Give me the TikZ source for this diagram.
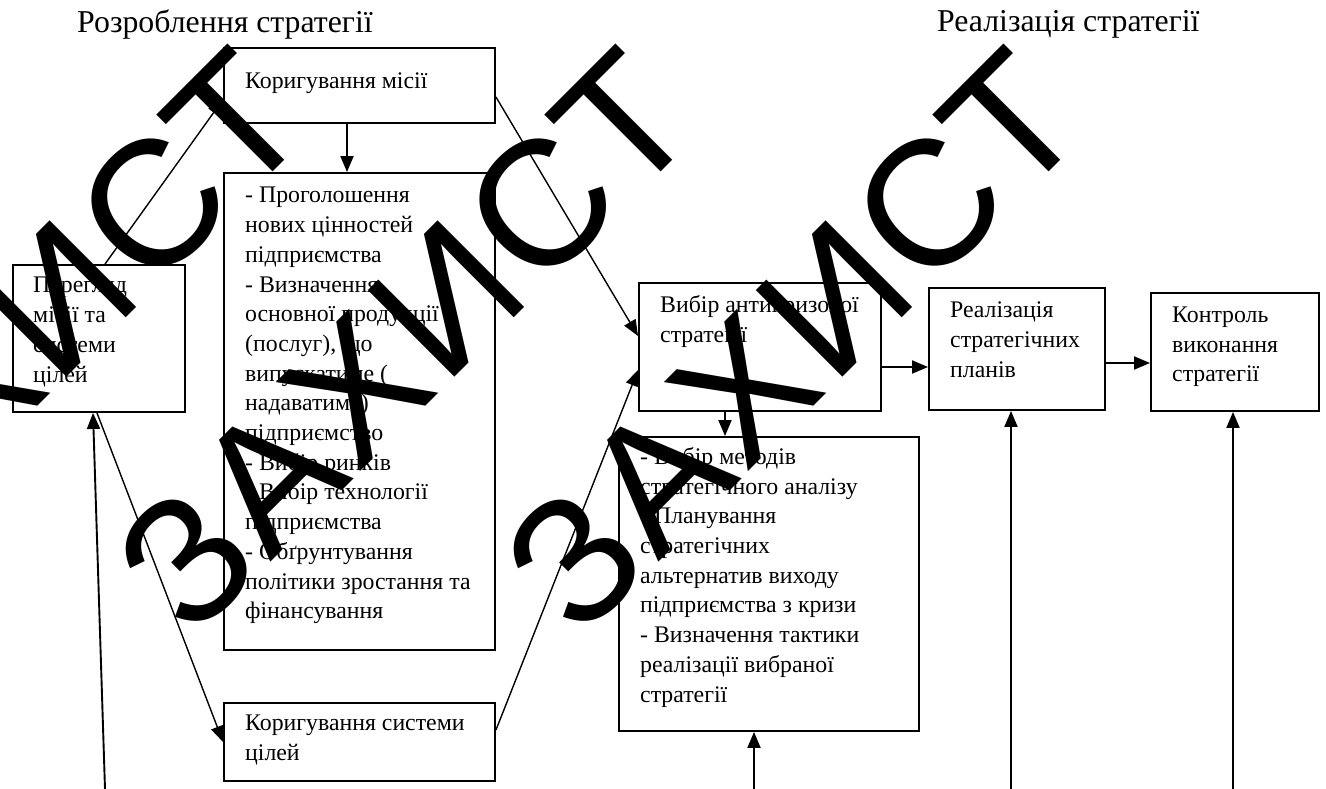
\documentclass[tikz,border=0pt]{standalone}
\usepackage{fontspec}
\setmainfont{Liberation Serif}
\newfontfamily\wmfont{Liberation Sans}[LetterSpace=2.5]
\usetikzlibrary{arrows.meta}

\begin{document}
\begin{tikzpicture}[x=1pt, y=-1pt, >={Triangle[length=16pt,width=13pt]},
    box/.style={draw, line width=1.9pt, inner sep=0pt},
    txt/.style={anchor=north west, inner sep=0pt, align=left, font=\fontsize{23.8}{29.7}\selectfont, execute at begin node=\strut},
    head/.style={anchor=base west, inner sep=0pt, font=\fontsize{31.8}{38}\selectfont},
    link/.style={->, line width=1.9pt},
    slant/.style={->, line width=1.4pt},
    wm/.style={rotate=45, inner sep=0pt, font=\wmfont\fontsize{178}{178}\selectfont}]
    \useasboundingbox (0,0) rectangle (1326,789);
    \node[head] (dev) at (77,33) {Розроблення стратегії};
    \node[head] (impl) at (937,32) {Реалізація стратегії};
    \node[box, minimum width=271pt, minimum height=75pt] (kmis) at (359.5,85.5) {};
    \node[box, minimum width=271pt, minimum height=477pt] (big1) at (359.5,411.5) {};
    \node[box, minimum width=271pt, minimum height=78pt] (ksys) at (359.5,742) {};
    \node[box, minimum width=172pt, minimum height=147pt] (pere) at (99,338.5) {};
    \node[box, minimum width=242pt, minimum height=128pt] (vib) at (760,347) {};
    \node[box, minimum width=300pt, minimum height=294pt] (big2) at (769,584) {};
    \node[box, minimum width=176pt, minimum height=122pt] (real) at (1017,349) {};
    \node[box, minimum width=168pt, minimum height=118pt] (kontr) at (1235,352) {};
    \node[txt] (kmist) at (245,67.2) {Коригування місії};
    \node[txt] (big1t) at (245,187.2) {- Проголошення\\нових цінностей\\підприємства\\- Визначення\\основної продукції\\(послуг), що\\випускатиме (\\надаватиме)\\підприємство\\- Вибір ринків\\- Вибір технології\\підприємства\\- Обґрунтування\\політики зростання та\\фінансування};
    \node[txt] (peret) at (33,277.2) {Перегляд\\місії та\\системи\\цілей};
    \node[txt] (ksyst) at (245,715.2) {Коригування системи\\цілей};
    \node[txt] (vibt) at (660,295.2) {Вибір антикризової\\стратегії};
    \node[txt] (big2t) at (640,447.2) {- Вибір методів\\стратегічного аналізу\\- Планування\\стратегічних\\альтернатив виходу\\підприємства з кризи\\- Визначення тактики\\реалізації вибраної\\стратегії};
    \node[txt] (realt) at (950,301.7) {Реалізація\\стратегічних\\планів};
    \node[txt] (kontrt) at (1172,306.7) {Контроль\\виконання\\стратегії};
    \coordinate (inA) at (105,789);
    \coordinate (inB) at (754,789);
    \coordinate (inC) at (1011,789);
    \coordinate (inD) at (1233,789);
    \draw[link] ([xshift=-12.5pt]kmis.south) -- ([xshift=-12.5pt]big1.north);
    \draw[slant] ([xshift=6pt]pere.north) -- ([yshift=-14pt]kmis.west);
    \draw[slant] ([yshift=-11.5pt]kmis.east) -- ([yshift=11pt]vib.west);
    \draw[link] (inA) -- ([xshift=-6pt]pere.south);
    \draw[slant] ([xshift=-2pt]pere.south) -- (ksys.west);
    \draw[slant] ([yshift=12pt]ksys.east) -- ([yshift=-23pt]vib.west);
    \draw[link] ([yshift=-20pt]vib.east) -- ([yshift=-18pt]real.west);
    \draw[link] ([yshift=-14pt]real.east) -- ([yshift=-11pt]kontr.west);
    \draw[link] ([xshift=-35pt]vib.south) -- ([xshift=-44pt]big2.north);
    \draw[link] (inB) -- ([xshift=-15pt]big2.south);
    \draw[link] (inC) -- ([xshift=-6pt]real.south);
    \draw[link] (inD) -- ([xshift=-2pt]kontr.south);
    \begin{scope}
        \clip (0,0) rectangle (1326,789);
        \node[wm] (wm1) at (17,341) {ЗАХИСТ};
        \node[wm] (wm2) at (405,341) {ЗАХИСТ};
        \node[wm] (wm3) at (793,341) {ЗАХИСТ};
    \end{scope}
\end{tikzpicture}
\end{document}
